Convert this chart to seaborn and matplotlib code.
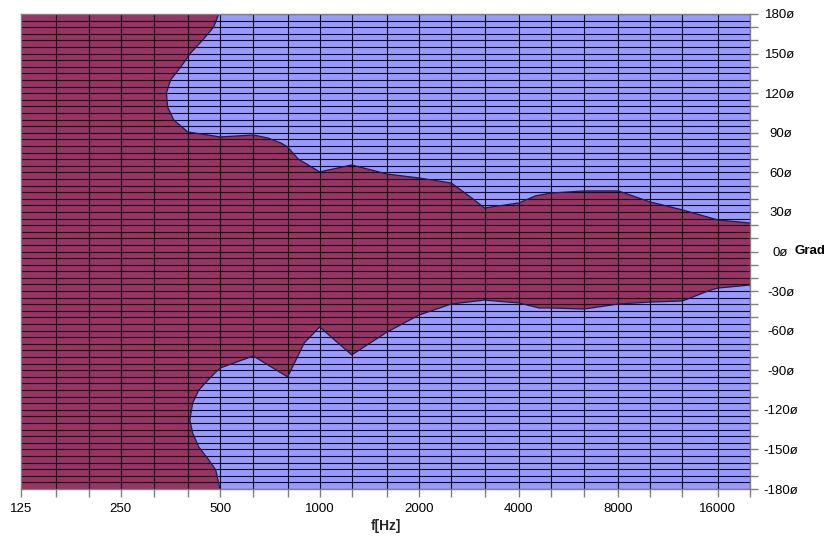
import numpy as np
import pandas as pd
import matplotlib
matplotlib.use("Agg")
import matplotlib.pyplot as plt
import seaborn as sns
from matplotlib.ticker import FixedLocator, NullFormatter, FixedFormatter

# ---------------- data ----------------
band_freqs = [125, 160, 200, 250, 315, 400, 500, 630, 800, 1000, 1250, 1600,
              2000, 2500, 3150, 4000, 5000, 6300, 8000, 10000, 12500, 16000, 20000]
octave_freqs = [125, 250, 500, 1000, 2000, 4000, 8000, 16000]
octave_labels = ["125", "250", "500", "1000", "2000", "4000", "8000", "16000"]
angle_major = list(range(-180, 181, 30))
angle_minor = list(range(-180, 181, 10))
angle_grid = list(range(-180, 181, 5))

# upper contour (from top edge through the low-frequency bulge to 20 kHz)
upper_freq = [495, 478, 443, 407, 380, 354, 344, 347, 362, 399, 459, 500, 630,
              698, 764, 800, 861, 923, 1000, 1250, 1600, 2000, 2500, 2885,
              3150, 4000, 4482, 5000, 6300, 8000, 10000, 12500, 16000, 20000]
upper_angle = [180, 170.1, 160.3, 150.4, 139.8, 130.0, 120.1, 109.5, 99.7, 90.6,
               88.3, 86.8, 88.3, 86.0, 82.2, 79.2, 70.1, 65.6, 60.3, 65.6, 58.7,
               55.7, 51.9, 40.5, 33.0, 36.8, 42.1, 44.3, 45.9, 45.9, 37.5, 31.5,
               23.9, 21.6]

# lower contour (from bottom edge through the bulge to 20 kHz)
lower_freq = [499, 495, 485, 462, 431, 413, 405, 413, 431, 469, 500, 630, 800,
              898, 1000, 1250, 1600, 2000, 2500, 3150, 4000, 4608, 5000, 6300,
              8000, 10000, 12500, 15100, 16000, 20000]
lower_angle = [-180, -175.4, -165.6, -158.0, -148.2, -137.6, -127.7, -114.8,
               -105.0, -95.1, -88.3, -79.2, -95.1, -69.3, -57.2, -78.4, -61.0,
               -48.1, -39.8, -36.8, -39.0, -42.8, -42.8, -43.6, -39.8, -38.3,
               -37.5, -29.5, -27.7, -25.4]

MAROON = "#993366"
BLUE = "#9999FF"
EDGE = "#1c1c50"
AXGRAY = "#808080"

# ---------------- figure ----------------
sns.set_theme(style="white")
plt.rcParams['font.family'] = ['Liberation Sans', 'DejaVu Sans']
plt.rcParams['text.color'] = 'black'
plt.rcParams['xtick.color'] = AXGRAY
plt.rcParams['ytick.color'] = AXGRAY
plt.rcParams['xtick.labelcolor'] = 'black'
plt.rcParams['ytick.labelcolor'] = 'black'

W, H = 829, 542
fig = plt.figure(figsize=(W / 100, H / 100), dpi=100)
fig.patch.set_facecolor('white')
ax = fig.add_axes([21 / W, 53 / H, 729 / W, 475 / H])
ax.set_facecolor(BLUE)
ax.set_xscale('log')
ax.set_xlim(band_freqs[0], band_freqs[-1])
ax.set_ylim(angle_major[0], angle_major[-1])

# maroon region enclosed by the two contours
poly_f = [band_freqs[0]] + upper_freq + lower_freq[::-1] + [band_freqs[0]]
poly_a = [angle_major[-1]] + upper_angle + lower_angle[::-1] + [angle_major[0]]
ax.fill(poly_f, poly_a, color=MAROON, lw=0, zorder=1)

# contour outlines
up_df = pd.DataFrame({"f": upper_freq, "a": upper_angle})
lo_df = pd.DataFrame({"f": lower_freq, "a": lower_angle})
sns.lineplot(data=up_df, x="f", y="a", sort=False, estimator=None,
             color=EDGE, lw=0.9, ax=ax, zorder=3)
sns.lineplot(data=lo_df, x="f", y="a", sort=False, estimator=None,
             color=EDGE, lw=0.9, ax=ax, zorder=3)

# grid
for a in angle_grid:
    ax.axhline(a, color='black', lw=0.8, alpha=0.9, zorder=2)
for f in band_freqs:
    ax.axvline(f, color='black', lw=0.8, alpha=0.9, zorder=2)

# x axis
ax.xaxis.set_major_locator(FixedLocator(octave_freqs))
ax.xaxis.set_major_formatter(FixedFormatter(octave_labels))
ax.xaxis.set_minor_locator(FixedLocator(band_freqs))
ax.xaxis.set_minor_formatter(NullFormatter())
ax.tick_params(axis='x', which='both', direction='out', length=6, width=1,
               color=AXGRAY, bottom=True, top=False)
ax.tick_params(axis='x', which='major', labelsize=9.5, pad=4)
ax.set_xlabel("f[Hz]", fontsize=10, fontweight='bold', labelpad=3)

# y axis on right
ax.yaxis.tick_right()
ax.set_yticks(angle_major)
ax.set_yticklabels([f"{a}ø" for a in angle_major])
ax.set_yticks(angle_minor, minor=True)
ax.tick_params(axis='y', which='both', direction='out', length=6, width=1,
               color=AXGRAY, right=True, left=False)
ax.tick_params(axis='y', which='major', labelsize=9.5, pad=16)
for lbl in ax.get_yticklabels():
    lbl.set_horizontalalignment('center')
ax.set_ylabel("")
ax.annotate("Grad", xy=(1, 0), xycoords=ax.get_yaxis_transform(),
            xytext=(45 * 0.72, 0), textcoords='offset points',
            ha='left', va='center', fontsize=9.5, fontweight='bold')

for s in ax.spines.values():
    s.set_color(AXGRAY)
    s.set_linewidth(1)
    s.set_zorder(4)

fig.savefig("out.png", dpi=100, facecolor='white')
